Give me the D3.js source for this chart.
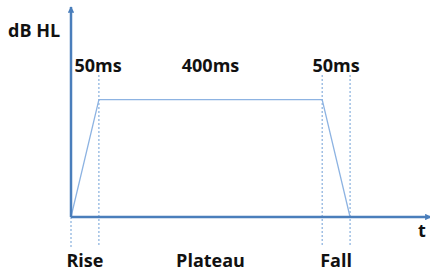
<!DOCTYPE html>
<html>
  <head>
    <meta charset="utf-8">
    <title>Rise / Plateau / Fall</title>
    <style>
    body { margin: 0; background: #fff; }
    text { font-family: "Open Sans", sans-serif; font-weight: bold; fill: #111; }
    </style>
  </head>
  <body>
    <script src="https://d3js.org/d3.v7.min.js"></script>
    <script>
      // Tamaño del gráfico
      var width = 430, height = 271;

      // Datos: fases del estímulo y su duración (ms)
      var phases = ["Rise", "Plateau", "Fall"];
      var durations = [50, 400, 50];
      var durationLabels = ["50ms", "400ms", "50ms"];
      // Amplitud relativa en cada borde de fase
      var levels = [0, 1, 1, 0];
      var yLabel = "dB HL", xLabel = "t";

      // tiempos acumulados de los bordes
      var edges = [0];
      durations.forEach(function(d, i){ edges.push(edges[i] + d); });

      var svg = d3.select("body").append("svg")
        .attr("width", width)
        .attr("height", height);

      var x = d3.scaleLinear().domain([0, 645]).range([71, 431]);
      var y = d3.scaleLinear().domain([0, 1.79]).range([217, 7]);

      var axisColor = "#4a7ebb", lineColor = "#8db3e2", dashColor = "#6f9fd6";

      // Flechas
      var defs = svg.append("defs");
      defs.append("marker")
        .attr("id", "arrow")
        .attr("viewBox", "0 0 10 10")
        .attr("refX", 9).attr("refY", 5)
        .attr("markerWidth", 2.6).attr("markerHeight", 2.6)
        .attr("markerUnits", "strokeWidth")
        .attr("orient", "auto")
        .append("path")
        .attr("d", "M0,0 L10,5 L0,10 z")
        .attr("fill", axisColor);

      // Líneas discontinuas verticales en cada borde
      svg.selectAll("line.guide")
        .data(edges)
        .enter().append("line")
        .attr("class", "guide")
        .attr("x1", function(d){ return x(d); })
        .attr("x2", function(d){ return x(d); })
        .attr("y1", function(d, i){ return i == 0 ? y(0) : 75; })
        .attr("y2", 247)
        .attr("stroke", dashColor)
        .attr("stroke-width", 1)
        .attr("stroke-dasharray", "2,2");

      // Trapecio
      var line = d3.line()
        .x(function(d){ return x(d[0]); })
        .y(function(d){ return y(d[1]); });
      svg.append("path")
        .datum(edges.map(function(e, i){ return [e, levels[i]]; }))
        .attr("d", line)
        .attr("fill", "none")
        .attr("stroke", lineColor)
        .attr("stroke-width", 1.3);

      // Ejes
      svg.append("line")
        .attr("x1", x(0)).attr("y1", y(0))
        .attr("x2", x(0)).attr("y2", y.range()[1])
        .attr("stroke", axisColor).attr("stroke-width", 2.5)
        .attr("marker-end", "url(#arrow)");
      svg.append("line")
        .attr("x1", x(0)).attr("y1", y(0))
        .attr("x2", x.range()[1]).attr("y2", y(0))
        .attr("stroke", axisColor).attr("stroke-width", 2.5)
        .attr("marker-end", "url(#arrow)");

      // Etiquetas de duración (arriba)
      svg.selectAll("text.dur")
        .data(durationLabels)
        .enter().append("text")
        .attr("class", "dur")
        .attr("x", function(d, i){ return Math.max((x(edges[i]) + x(edges[i+1])) / 2, x(0) + 27); })
        .attr("y", 72)
        .attr("text-anchor", "middle")
        .attr("font-size", "18px")
        .text(function(d){ return d; });

      // Etiquetas de fase (abajo)
      svg.selectAll("text.phase")
        .data(phases)
        .enter().append("text")
        .attr("class", "phase")
        .attr("x", function(d, i){ return (x(edges[i]) + x(edges[i+1])) / 2; })
        .attr("y", 267)
        .attr("text-anchor", "middle")
        .attr("font-size", "18px")
        .text(function(d){ return d; });

      svg.append("text").attr("x", 8).attr("y", 37)
        .attr("font-size", "18px").text(yLabel);
      svg.append("text").attr("x", 418).attr("y", 237)
        .attr("font-size", "18px").text(xLabel);
    </script>
  </body>
</html>
